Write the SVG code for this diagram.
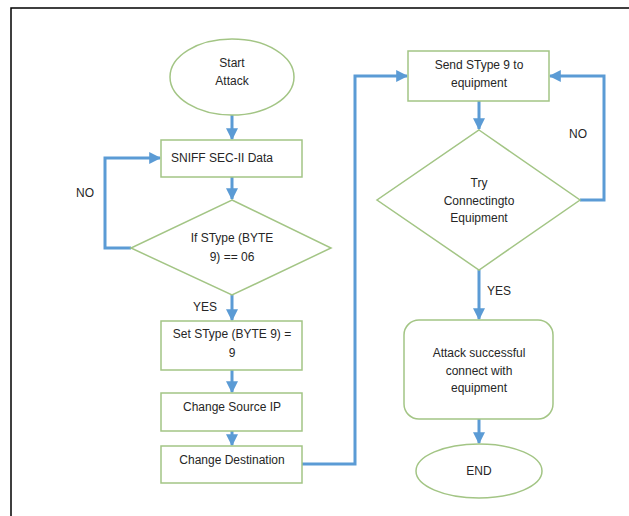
<svg xmlns="http://www.w3.org/2000/svg" width="629" height="516" viewBox="0 0 629 516">
  <style>
    .shape { fill: #ffffff; stroke: #a3c585; stroke-width: 1.5; }
    .label { font-family: "Liberation Sans", Arial, sans-serif; font-size: 12px; fill: #262626; text-anchor: middle; }
    .flow { fill: none; stroke: #5b9bd5; stroke-width: 3; }
  </style>
  <defs>
    <marker id="arrow" viewBox="0 0 10 10" refX="9" refY="5" markerWidth="4" markerHeight="4" orient="auto" markerUnits="strokeWidth">
      <path d="M0,0 L10,5 L0,10 z" fill="#5b9bd5"/>
    </marker>
  </defs>

  <rect x="0" y="0" width="629" height="516" fill="#ffffff"/>
  <!-- page frame -->
  <path d="M11,516 V8 H629" fill="none" stroke="#000000" stroke-width="1.5"/>

  <g id="connectors">
    <path class="flow" d="M232,115 V139" marker-end="url(#arrow)"/>
    <path class="flow" d="M232,176 V199" marker-end="url(#arrow)"/>
    <path class="flow" d="M131,248 H105 V158 H160" marker-end="url(#arrow)"/>
    <path class="flow" d="M232,295 V320" marker-end="url(#arrow)"/>
    <path class="flow" d="M232,370 V392" marker-end="url(#arrow)"/>
    <path class="flow" d="M232,431 V445" marker-end="url(#arrow)"/>
    <path class="flow" d="M302,464 H355 V76 H407" marker-end="url(#arrow)"/>
    <path class="flow" d="M479,101 V129" marker-end="url(#arrow)"/>
    <path class="flow" d="M580,200 H604 V76 H550" marker-end="url(#arrow)"/>
    <path class="flow" d="M479,270 V319" marker-end="url(#arrow)"/>
    <path class="flow" d="M479,419 V443" marker-end="url(#arrow)"/>
    <text class="label" x="85" y="197">NO</text>
    <text class="label" x="205" y="311">YES</text>
    <text class="label" x="578" y="138">NO</text>
    <text class="label" x="499" y="295">YES</text>
  </g>

  <g id="start">
    <ellipse class="shape" cx="232" cy="77" rx="62" ry="38"/>
    <text class="label" x="232" y="67">Start</text>
    <text class="label" x="232" y="85">Attack</text>
  </g>

  <g id="sniff">
    <rect class="shape" x="161" y="140" width="141" height="37"/>
    <text class="label" x="171" y="162" style="text-anchor:start">SNIFF SEC-II Data</text>
  </g>

  <g id="check-stype">
    <polygon class="shape" points="232,200 331,248 232,295 131,248"/>
    <text class="label" x="232" y="242">If SType (BYTE</text>
    <text class="label" x="232" y="261">9) == 06</text>
  </g>

  <g id="set-stype">
    <rect class="shape" x="161" y="321" width="141" height="49"/>
    <text class="label" x="232" y="338">Set SType (BYTE 9) =</text>
    <text class="label" x="232" y="357">9</text>
  </g>

  <g id="change-source">
    <rect class="shape" x="161" y="393" width="141" height="38"/>
    <text class="label" x="232" y="411">Change Source IP</text>
  </g>

  <g id="change-destination">
    <rect class="shape" x="161" y="446" width="141" height="37"/>
    <text class="label" x="232" y="464">Change Destination</text>
  </g>

  <g id="send">
    <rect class="shape" x="408" y="51" width="141" height="50"/>
    <text class="label" x="479" y="69">Send SType 9 to</text>
    <text class="label" x="479" y="87">equipment</text>
  </g>

  <g id="try-connect">
    <polygon class="shape" points="479,130 580,200 479,270 377,200"/>
    <text class="label" x="479" y="187">Try</text>
    <text class="label" x="479" y="205">Connectingto</text>
    <text class="label" x="479" y="222">Equipment</text>
  </g>

  <g id="success">
    <rect class="shape" x="404" y="320" width="149" height="99" rx="15" ry="15"/>
    <text class="label" x="479" y="357">Attack successful</text>
    <text class="label" x="479" y="375">connect with</text>
    <text class="label" x="479" y="392">equipment</text>
  </g>

  <g id="end">
    <ellipse class="shape" cx="479" cy="471" rx="63" ry="27"/>
    <text class="label" x="479" y="475">END</text>
  </g>
</svg>
